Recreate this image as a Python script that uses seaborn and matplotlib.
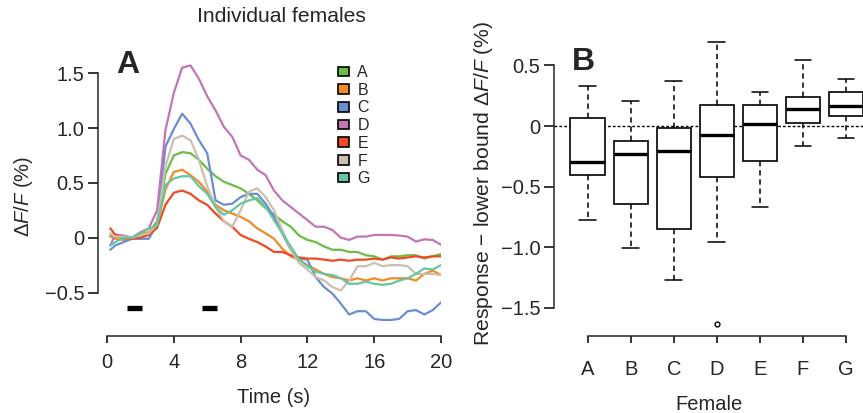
import numpy as np
import pandas as pd
import matplotlib
matplotlib.use("Agg")
import matplotlib.pyplot as plt
from matplotlib.patches import Patch
import seaborn as sns

# ---------------- data ----------------
time_s = [0.2, 0.5, 1.0, 1.5, 2.0, 2.5, 3.0, 3.5, 4.0, 4.5, 5.0, 5.5, 6.0, 6.5, 7.0, 7.5,
          8.0, 8.5, 9.0, 9.5, 10.0, 10.5, 11.0, 11.5, 12.0, 12.5, 13.0, 13.5, 14.0, 14.5,
          15.0, 15.5, 16.0, 16.5, 17.0, 17.5, 18.0, 18.5, 19.0, 19.5, 20.0]

female_A = [0.02, 0.01, 0.0, 0.0, 0.025, 0.04, 0.15, 0.58, 0.75, 0.78, 0.77, 0.71, 0.63, 0.56,
            0.51, 0.48, 0.45, 0.40, 0.34, 0.27, 0.21, 0.15, 0.10, 0.02, -0.02, -0.04, -0.08,
            -0.11, -0.11, -0.13, -0.13, -0.16, -0.17, -0.20, -0.17, -0.17, -0.16, -0.16,
            -0.19, -0.17, -0.15]
female_B = [0.01, -0.01, -0.02, 0.0, 0.04, 0.05, 0.11, 0.44, 0.60, 0.62, 0.57, 0.51, 0.42,
            0.30, 0.25, 0.22, 0.19, 0.15, 0.085, 0.04, -0.01, -0.10, -0.17, -0.20, -0.25,
            -0.29, -0.33, -0.36, -0.37, -0.39, -0.37, -0.39, -0.37, -0.39, -0.37, -0.37,
            -0.37, -0.39, -0.33, -0.30, -0.34]
female_C = [-0.11, -0.07, -0.04, -0.01, -0.01, -0.01, 0.12, 0.83, 0.99, 1.13, 1.04, 0.89,
            0.77, 0.34, 0.30, 0.31, 0.37, 0.40, 0.40, 0.31, 0.19, 0.04, -0.11, -0.19, -0.20,
            -0.36, -0.45, -0.51, -0.60, -0.70, -0.67, -0.67, -0.74, -0.75, -0.75, -0.74,
            -0.67, -0.66, -0.70, -0.66, -0.59]
female_D = [-0.07, 0.03, 0.02, 0.0, 0.05, 0.085, 0.25, 0.98, 1.32, 1.55, 1.57, 1.45, 1.29,
            1.16, 1.01, 0.92, 0.75, 0.71, 0.62, 0.57, 0.43, 0.34, 0.28, 0.22, 0.16, 0.10,
            0.10, 0.07, 0.0, -0.02, 0.01, 0.01, 0.025, 0.025, 0.025, 0.02, 0.01, -0.035,
            -0.015, -0.02, -0.065]
female_E = [0.085, 0.025, 0.0, -0.01, 0.0, 0.025, 0.09, 0.30, 0.41, 0.43, 0.40, 0.34, 0.30,
            0.22, 0.15, 0.10, 0.025, -0.01, -0.04, -0.08, -0.13, -0.13, -0.16, -0.18, -0.19,
            -0.19, -0.20, -0.21, -0.20, -0.21, -0.20, -0.20, -0.19, -0.20, -0.18, -0.19,
            -0.18, -0.17, -0.18, -0.17, -0.17]
female_F = [0.04, 0.01, 0.01, 0.0, 0.025, 0.04, 0.12, 0.65, 0.90, 0.93, 0.89, 0.71, 0.47,
            0.28, 0.15, 0.10, 0.25, 0.42, 0.45, 0.37, 0.25, 0.07, -0.11, -0.23, -0.29, -0.36,
            -0.39, -0.45, -0.48, -0.39, -0.26, -0.26, -0.23, -0.26, -0.25, -0.25, -0.26,
            -0.33, -0.33, -0.33, -0.34]
female_G = [-0.07, -0.04, 0.0, 0.0, 0.04, 0.085, 0.11, 0.48, 0.54, 0.56, 0.56, 0.47, 0.40,
            0.28, 0.21, 0.25, 0.31, 0.34, 0.36, 0.28, 0.16, 0.04, -0.08, -0.20, -0.26, -0.31,
            -0.33, -0.34, -0.37, -0.42, -0.42, -0.40, -0.42, -0.43, -0.42, -0.39, -0.37,
            -0.33, -0.28, -0.29, -0.25]

female_names = ["A", "B", "C", "D", "E", "F", "G"]
female_colors = ["#6bbd45", "#f58a25", "#6a8fd0", "#c276b8", "#ee4a23", "#cbbfb0", "#66c6a0"]

stim_on = [1.2, 5.7]
stim_off = [2.1, 6.6]
stim_level = -0.64

# box plot statistics (panel B)
box_whislo = [-0.775, -1.003, -1.269, -0.959, -0.668, -0.162, -0.102]
box_q1 = [-0.407, -0.643, -0.849, -0.420, -0.286, 0.022, 0.082]
box_med = [-0.297, -0.231, -0.209, -0.071, 0.014, 0.140, 0.168]
box_q3 = [0.063, -0.126, -0.014, 0.170, 0.170, 0.239, 0.283]
box_whishi = [0.330, 0.203, 0.371, 0.695, 0.283, 0.547, 0.390]
box_fliers = [[], [], [], [-1.632], [], [], []]

yticks_A = [-0.5, 0, 0.5, 1.0, 1.5]
yticklabels_A = ["\u22120.5", "0", "0.5", "1.0", "1.5"]
xticks_A = [0, 4, 8, 12, 16, 20]
yticks_B = [-1.5, -1.0, -0.5, 0, 0.5]
yticklabels_B = ["\u22121.5", "\u22121.0", "\u22120.5", "0", "0.5"]

# ---------------- style ----------------
sns.set_theme(style="ticks")
plt.rcParams["font.family"] = ["Liberation Sans", "DejaVu Sans"]
plt.rcParams["mathtext.fontset"] = "custom"
plt.rcParams["mathtext.rm"] = "Liberation Sans"
plt.rcParams["mathtext.it"] = "Liberation Sans:italic"
plt.rcParams["mathtext.bf"] = "Liberation Sans:bold"
plt.rcParams["axes.linewidth"] = 1.1
plt.rcParams["xtick.major.width"] = 1.1
plt.rcParams["ytick.major.width"] = 1.1

W, H = 863, 413
fig = plt.figure(figsize=(W / 100, H / 100), dpi=100)

def px_axes(left, top, right, bottom):
    return fig.add_axes([left / W, 1 - bottom / H, (right - left) / W, (bottom - top) / H])

TICK_FS = 14.5

# ---------------- panel A ----------------
axA = px_axes(107, 56.7, 441, 336)
df = pd.DataFrame({
    "time": np.tile(time_s, len(female_names)),
    "value": np.concatenate([female_A, female_B, female_C, female_D, female_E, female_F, female_G]),
    "female": np.repeat(female_names, len(time_s)),
})
sns.lineplot(data=df, x="time", y="value", hue="female", hue_order=female_names,
             palette=female_colors, linewidth=1.6, legend=False, ax=axA)
for a, b in zip(stim_on, stim_off):
    axA.plot([a, b], [stim_level, stim_level], color="black", lw=3.8, solid_capstyle="butt")

axA.set_xlim(0, 20)
axA.set_ylim(-0.896, 1.65)
sns.despine(ax=axA)
axA.spines["left"].set_position(("outward", 6.3))
axA.spines["left"].set_bounds(-0.5, 1.5)
axA.set_yticks(yticks_A, yticklabels_A)
axA.set_xticks(xticks_A, [str(t) for t in xticks_A])
axA.tick_params(axis="y", length=7, labelsize=TICK_FS, pad=3, color="black")
axA.tick_params(axis="x", length=5, labelsize=TICK_FS, pad=7, color="black")
axA.set_xlabel("Time (s)", fontsize=14.5, labelpad=12)
axA.set_ylabel(r"$\Delta F/F$ (%)", fontsize=14.5, labelpad=7)
axA.text(116 / W, 1 - 73 / H, "A", transform=fig.transFigure, fontsize=23,
         fontweight="bold", va="baseline", ha="left")
fig.text(281.5 / W, 1 - 17 / H, "Individual females", fontsize=15.2, ha="center", va="center")

handles = [Patch(facecolor=c, edgecolor="black", linewidth=1.2) for c in female_colors]
axA.legend(handles=handles, labels=female_names, loc="upper left",
           bbox_to_anchor=(337.5 / W, 1 - 65 / H), bbox_transform=fig.transFigure,
           frameon=False, fontsize=11.5, handlelength=0.75, handleheight=0.55,
           handletextpad=0.5, labelspacing=0.17, borderpad=0, borderaxespad=0)

# ---------------- panel B ----------------
axB = px_axes(554.3, 31.4, 863, 336)
stats = []
for i, n in enumerate(female_names):
    stats.append(dict(label=n, whislo=box_whislo[i], q1=box_q1[i], med=box_med[i],
                      q3=box_q3[i], whishi=box_whishi[i], fliers=box_fliers[i]))
axB.axhline(0, color="black", lw=1.0, ls=(0, (2, 1.5)), zorder=1)
axB.bxp(stats, positions=list(range(len(female_names))), widths=0.8, patch_artist=True,
        boxprops=dict(facecolor="white", edgecolor="black", linewidth=1.2),
        medianprops=dict(color="black", linewidth=2.4),
        whiskerprops=dict(color="black", linewidth=1.1, linestyle=(0, (3.5, 2.5))),
        capprops=dict(color="black", linewidth=1.1),
        capwidths=0.39,
        flierprops=dict(marker="o", markersize=3.5, markerfacecolor="white",
                        markeredgecolor="black", markeredgewidth=1.0),
        zorder=2)
axB.set_xlim(-0.776, 6.395)
axB.set_ylim(-1.731, 0.78)
sns.despine(ax=axB)
axB.spines["left"].set_bounds(-1.5, 0.5)
axB.spines["bottom"].set_bounds(0, 6)
axB.set_yticks(yticks_B, yticklabels_B)
axB.set_xticks(range(len(female_names)), female_names)
axB.tick_params(axis="y", length=7, labelsize=TICK_FS, pad=3, color="black")
axB.tick_params(axis="x", length=5, labelsize=TICK_FS, pad=12, color="black")
axB.set_xlabel("Female", fontsize=14.5, labelpad=12)
axB.set_ylabel(r"Response $-$ lower bound $\Delta F/F$ (%)", fontsize=15.2, labelpad=4)
axB.text(572 / W, 1 - 70 / H, "B", transform=fig.transFigure, fontsize=23,
         fontweight="bold", va="baseline", ha="left")

fig.savefig("out.png", dpi=100)
